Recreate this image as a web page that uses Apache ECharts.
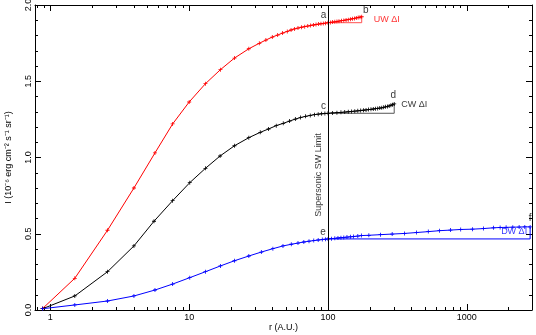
<!DOCTYPE html>
<html>
<head>
<meta charset="utf-8">
<script src="https://cdn.jsdelivr.net/npm/echarts@6/dist/echarts.min.js"></script>
<style>html,body{margin:0;padding:0;background:#fff;}#c{width:536px;height:335px;}</style>
</head>
<body>
<div id="c"></div>
<script>
// ---- data ----
const xTickLabels = ['1', '10', '100', '1000'];
const yTickLabels = ['0.0', '0.5', '1.0', '1.5', '2.0'];

const uwR = [0.88,1.5,2.58,4.0,5.67,7.6,10,13.1,16.8,21.2,26.9,32,35.7,39.7,43.4,47.1,50.9,54.2,57.5,60.8,64.5,68,71.5,75,78.5,82,85.5,89,92.5,96,100,104,108,112,116,120,125,130,135,140,145,150,155,160,165,170,175];
const uwI = [0.01,0.208,0.523,0.80,1.03,1.22,1.364,1.484,1.576,1.652,1.713,1.749,1.770,1.790,1.803,1.816,1.827,1.836,1.843,1.849,1.854,1.858,1.862,1.866,1.869,1.872,1.875,1.877,1.879,1.881,1.884,1.886,1.888,1.890,1.892,1.894,1.897,1.899,1.902,1.904,1.907,1.910,1.912,1.915,1.918,1.920,1.923];

const cwR = [0.88,1.5,2.58,4.0,5.58,7.6,10.1,13.1,16.7,21.2,26.9,32.5,37.3,42.4,47.6,52.9,58.2,63.5,69,74.5,80,85,90,95,100,108,116,124,132,140,148,156,164,172,180,188,196,204,212,220,228,236,244,252,260,268,276,284,292,300];
const cwI = [0.0085,0.092,0.251,0.42,0.582,0.717,0.835,0.929,1.01,1.077,1.13,1.165,1.187,1.209,1.224,1.239,1.252,1.262,1.270,1.276,1.281,1.284,1.287,1.289,1.290,1.292,1.294,1.296,1.298,1.300,1.302,1.304,1.306,1.308,1.310,1.312,1.314,1.316,1.318,1.320,1.322,1.324,1.326,1.329,1.332,1.335,1.338,1.342,1.346,1.351];

const dwR = [0.88,1.5,2.58,4.0,5.67,7.6,10.1,13.1,16.8,21.2,26.9,33.1,40.1,47.4,54.4,60.8,67,73,79,85,91,96,100,106,112,118,124,130,137,145,153,164,174,197,239,290,356,435,528,635,762,904,1098,1318,1556,1738,1920,2145,2383,2618,2860];
const dwI = [0.0085,0.033,0.059,0.092,0.131,0.17,0.212,0.251,0.289,0.323,0.354,0.38,0.402,0.42,0.431,0.439,0.446,0.451,0.455,0.459,0.462,0.464,0.466,0.468,0.470,0.472,0.474,0.476,0.478,0.480,0.482,0.485,0.488,0.49,0.494,0.498,0.502,0.508,0.514,0.52,0.524,0.528,0.53,0.534,0.539,0.541,0.542,0.543,0.544,0.545,0.545];

// delta-I brackets: [r, I] corners
const uwBracketR = [100, 175, 175];
const uwBracketI = [1.884, 1.884, 1.923];
const cwBracketR = [100, 300, 300];
const cwBracketI = [1.290, 1.290, 1.351];
const dwBracketR = [100, 2860, 2860];
const dwBracketI = [0.466, 0.466, 0.545];

const limitR = 100;
const limitText = 'Supersonic SW Limit';

// annotations: text and the data point they belong to
const annTexts = ['a', 'b', 'UW ΔI', 'c', 'd', 'CW ΔI', 'e', 'f', 'DW ΔI', limitText];
const annR =     [100, 175, 175, 100, 300, 300, 100, 2860, 2860, 100];
const annI =     [1.884, 1.923, 1.923, 1.290, 1.351, 1.351, 0.466, 0.545, 0.545, 0.885];

const xName = 'r (A.U.)';
const yName = 'I (10⁻⁶ erg cm⁻² s⁻¹ sr⁻¹)';

// ---- styling ----
const FONT = '"Liberation Sans", Arial, Helvetica, sans-serif';
const annStyle = [
  {offset: [-4.5, -7], color: '#000', fontSize: 10},
  {offset: [4, -6], color: '#000', fontSize: 10},
  {offset: [12, 3], color: '#ff0000', fontSize: 9, align: 'left'},
  {offset: [-4.5, -7], color: '#000', fontSize: 10},
  {offset: [-1, -9], color: '#000', fontSize: 10},
  {offset: [7, 1], color: '#000', fontSize: 9, align: 'left'},
  {offset: [-5, -6.5], color: '#000', fontSize: 10},
  {offset: [0, -9], color: '#000', fontSize: 10},
  {offset: [-3, 5], color: '#0000ff', fontSize: 9, align: 'right'},
  {offset: [0, -9], color: '#000', fontSize: 9, rotate: 90}
];

const plus = 'path://M1.6,0h0.8v1.6h1.6v0.8h-1.6v1.6h-0.8v-1.6h-1.6v-0.8h1.6z';
const zip = (a, b) => a.map((v, i) => [v, b[i]]);

function lineSeries(name, r, I, color, sym) {
  return {
    name, type: 'line', data: zip(r, I),
    symbol: sym ? plus : 'none', symbolSize: 4, showSymbol: !!sym,
    lineStyle: {color, width: 1}, itemStyle: {color},
    z: sym ? 3 : 2, silent: true
  };
}

const xTickSet = xTickLabels.map(Number);
function mkAxis(extra, split) {
  return Object.assign({
    axisLine: {show: true, onZero: false, lineStyle: {color: '#000', width: 1}},
    axisTick: {show: true, inside: true, length: 6, lineStyle: {color: '#000', width: 1}},
    minorTick: {show: true, splitNumber: split, length: 3, lineStyle: {color: '#000', width: 1}},
    splitLine: {show: false},
    minorSplitLine: {show: false},
    nameMoveOverlap: false
  }, extra);
}

const option = {
  animation: false,
  backgroundColor: '#fff',
  grid: {left: 35, right: 4, top: 5, bottom: 25, containLabel: false, outerBoundsMode: 'none'},
  xAxis: [
    mkAxis({
      type: 'log', logBase: 10, min: 0.775, max: 2950, position: 'bottom',
      name: xName, nameLocation: 'middle', nameGap: 13,
      nameTextStyle: {fontFamily: FONT, fontSize: 9, color: '#000'},
      axisLabel: {margin: 3, fontFamily: FONT, fontSize: 9, color: '#000',
        showMinLabel: false, showMaxLabel: false,
        formatter: v => { const k = xTickSet.indexOf(Math.round(v * 1000) / 1000); return k >= 0 ? xTickLabels[k] : ''; }}
    }, 9),
    mkAxis({
      type: 'log', logBase: 10, min: 0.775, max: 2950, position: 'top',
      axisLabel: {show: false}
    }, 9)
  ],
  yAxis: [
    mkAxis({
      type: 'value', min: 0, max: 2, interval: 0.5, position: 'left',
      name: yName, nameLocation: 'middle', nameGap: 22, nameRotate: 90,
      nameTextStyle: {fontFamily: FONT, fontSize: 9, color: '#000'},
      axisLabel: {margin: 2, rotate: 90, fontFamily: FONT, fontSize: 9, color: '#000',
        formatter: v => yTickLabels[Math.round(v * 2)]}
    }, 5),
    mkAxis({
      type: 'value', min: 0, max: 2, interval: 0.5, position: 'right',
      axisLabel: {show: false}
    }, 5)
  ],
  series: [
    Object.assign(lineSeries('UW', uwR, uwI, '#ff0000', true), {
      markLine: {
        silent: true, symbol: 'none', animation: false,
        lineStyle: {color: '#000', width: 1, type: 'solid'},
        label: {show: false},
        data: [{xAxis: limitR}]
      }
    }),
    lineSeries('CW', cwR, cwI, '#000000', true),
    lineSeries('DW', dwR, dwI, '#0000ff', true),
    lineSeries('UW bracket', uwBracketR, uwBracketI, '#ff5050', false),
    lineSeries('CW bracket', cwBracketR, cwBracketI, '#555555', false),
    lineSeries('DW bracket', dwBracketR, dwBracketI, '#0000ff', false),
    {
      type: 'scatter', symbolSize: 0, silent: true, z: 5,
      data: annTexts.map((t, i) => ({
        value: [annR[i], annI[i]],
        label: Object.assign({
          show: true, position: 'inside', formatter: t,
          fontFamily: FONT
        }, annStyle[i])
      }))
    }
  ]
};

const chart = echarts.init(document.getElementById('c'), null, {renderer: 'canvas'});
chart.setOption(option);
</script>
</body>
</html>
